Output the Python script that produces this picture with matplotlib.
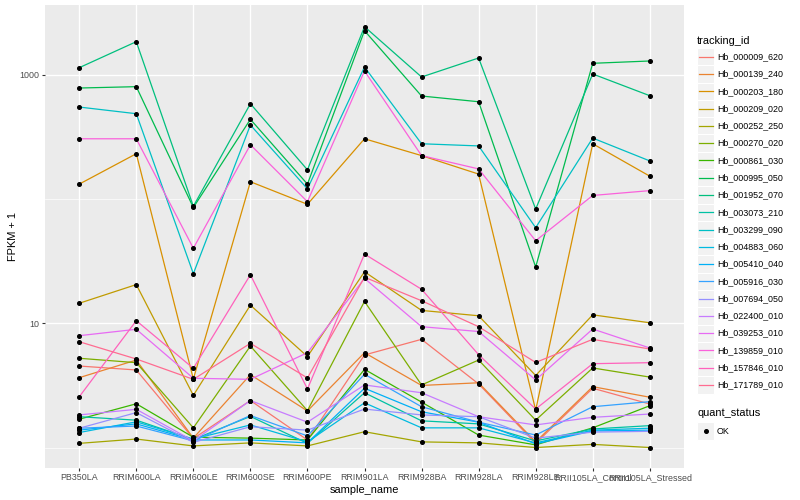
import matplotlib
matplotlib.use("Agg")
import matplotlib.pyplot as plt
from matplotlib.patches import Rectangle
from matplotlib.lines import Line2D
from matplotlib.ticker import FixedLocator, NullFormatter

plt.rcParams['font.family'] = ['Liberation Sans', 'DejaVu Sans']

samples = ["PB350LA", "RRIM600LA", "RRIM600LE", "RRIM600SE", "RRIM600PE",
           "RRIM901LA", "RRIM928BA", "RRIM928LA", "RRIM928LE",
           "RRII105LA_Control", "RRII105LA_Stressed"]

tracking_ids = ["Hb_000009_620", "Hb_000139_240", "Hb_000203_180", "Hb_000209_020",
                "Hb_000252_250", "Hb_000270_020", "Hb_000861_030", "Hb_000995_050",
                "Hb_001952_070", "Hb_003073_210", "Hb_003299_090", "Hb_004883_060",
                "Hb_005410_040", "Hb_005916_030", "Hb_007694_050", "Hb_022400_010",
                "Hb_039253_010", "Hb_139859_010", "Hb_157846_010", "Hb_171789_010"]

# FPKM + 1 values, one list per tracking_id (order of samples above)
hb_000009_620 = [4.53, 4.21, 1.18, 2.39, 1.15, 5.56, 7.43, 3.25, 1.08, 3.00, 2.24]
hb_000139_240 = [3.65, 5.06, 1.19, 3.86, 1.97, 5.80, 3.16, 3.32, 1.11, 3.09, 2.54]
hb_000203_180 = [132, 232, 3.56, 138, 90.8, 306, 224, 159, 2.00, 279, 153]
hb_000209_020 = [14.5, 20.5, 2.63, 14.0, 5.40, 26.0, 12.7, 11.5, 3.80, 11.7, 10.1]
hb_000252_250 = [1.08, 1.17, 1.03, 1.09, 1.03, 1.34, 1.11, 1.09, 1.00, 1.06, 1.00]
hb_000270_020 = [5.23, 4.82, 1.44, 6.56, 1.98, 15.0, 3.19, 5.06, 1.66, 4.37, 3.69]
hb_000861_030 = [1.69, 2.25, 1.21, 1.19, 1.15, 4.26, 2.32, 1.26, 1.05, 1.44, 2.17]
hb_000995_050 = [784, 804, 85.6, 439, 132, 2269, 676, 608, 28.4, 1240, 1294]
hb_001952_070 = [1143, 1851, 87.5, 586, 172, 2444, 962, 1368, 83.2, 1017, 680]
hb_003073_210 = [1.77, 1.66, 1.16, 1.78, 1.08, 2.76, 1.64, 1.55, 1.13, 1.41, 1.50]
hb_003299_090 = [551, 487, 25.1, 395, 121, 1158, 279, 268, 58.9, 310, 203]
hb_004883_060 = [1.32, 1.61, 1.17, 1.52, 1.11, 2.29, 1.44, 1.44, 1.09, 1.38, 1.43]
hb_005410_040 = [1.38, 1.55, 1.15, 1.15, 1.09, 3.00, 1.94, 1.60, 1.07, 1.36, 1.38]
hb_005916_030 = [1.43, 1.49, 1.13, 1.81, 1.24, 3.89, 2.13, 1.60, 1.26, 2.13, 2.34]
hb_007694_050 = [1.43, 1.91, 1.10, 1.47, 1.38, 2.04, 1.83, 1.77, 1.19, 1.33, 1.35]
hb_022400_010 = [1.83, 2.03, 1.13, 2.39, 1.60, 3.19, 2.76, 1.77, 1.52, 1.75, 1.86]
hb_039253_010 = [7.95, 8.95, 3.61, 3.54, 5.80, 23.0, 9.39, 8.59, 3.50, 9.00, 6.33]
hb_139859_010 = [306, 306, 40.2, 274, 95.3, 1075, 224, 175, 46.2, 107, 117]
hb_157846_010 = [2.56, 10.5, 4.34, 24.6, 2.96, 36.1, 18.8, 5.59, 2.04, 4.73, 4.82]
hb_171789_010 = [7.11, 5.16, 3.54, 6.90, 3.63, 23.5, 15.2, 9.39, 4.84, 7.43, 6.21]

series = [hb_000009_620, hb_000139_240, hb_000203_180, hb_000209_020, hb_000252_250,
          hb_000270_020, hb_000861_030, hb_000995_050, hb_001952_070, hb_003073_210,
          hb_003299_090, hb_004883_060, hb_005410_040, hb_005916_030, hb_007694_050,
          hb_022400_010, hb_039253_010, hb_139859_010, hb_157846_010, hb_171789_010]

colors = ["#F8766D", "#EA8331", "#D89000", "#C09B00", "#A3A500", "#7CAE00", "#39B600",
          "#00BB4E", "#00BF7D", "#00C1A3", "#00BFC4", "#00BAE0", "#00B0F6", "#35A2FF",
          "#9590FF", "#C77CFF", "#E76BF3", "#FA62DB", "#FF62BC", "#FF6C91"]

W, H = 800, 500
fig = plt.figure(figsize=(W / 100, H / 100), dpi=100)
fig.patch.set_facecolor("white")


def fx(x):
    return x / W


def fy(y):
    return 1 - y / H


ax = fig.add_axes([fx(45), fy(468), (684 - 45) / W, (468 - 5) / H])
ax.set_facecolor("#EBEBEB")
for s in ax.spines.values():
    s.set_visible(False)

xs = list(range(1, len(samples) + 1))
for vals, col in zip(series, colors):
    ax.plot(xs, vals, color=col, lw=0.9, zorder=2, solid_capstyle='butt')
for vals in series:
    ax.plot(xs, vals, ls='none', marker='o', ms=2.6, color='black', zorder=3)

ax.set_yscale('log')
ax.set_ylim(0.684, 3654)
ax.set_xlim(0.4, len(samples) + 0.6)
ax.set_xticks(xs)
ax.set_xticklabels(samples)
ax.set_yticks([10, 1000])
ax.set_yticklabels(["10", "1000"])
ax.yaxis.set_minor_locator(FixedLocator([1, 100]))
ax.yaxis.set_minor_formatter(NullFormatter())
ax.tick_params(axis='both', which='major', length=2.0, width=0.8, color='#333333',
               labelsize=6.4, labelcolor='#4D4D4D', pad=1.8)
ax.tick_params(axis='y', which='minor', length=0)
ax.set_axisbelow(True)
ax.grid(which='major', color='white', lw=1.0)
ax.grid(which='minor', axis='y', color='white', lw=0.5)

ax.set_xlabel("sample_name", fontsize=7.9, labelpad=2)
ax.set_ylabel("FPKM + 1", fontsize=7.9, labelpad=1)

# legend: tracking_id
key = 17.28
x0 = 697
fig.text(fx(x0), fy(40.5), "tracking_id", fontsize=7.9, va='center', ha='left')
y_first = 56.7
for i, (tid, col) in enumerate(zip(tracking_ids, colors)):
    yc = y_first + key * i
    fig.add_artist(Rectangle((fx(x0), fy(yc + key / 2)), key / W, key / H,
                             transform=fig.transFigure, facecolor="#F2F2F2",
                             edgecolor="white", lw=0.8))
    fig.add_artist(Line2D([fx(x0 + 1.5), fx(x0 + key - 1.5)], [fy(yc), fy(yc)],
                          transform=fig.transFigure, color=col, lw=0.9))
    fig.text(fx(717), fy(yc), tid, fontsize=6.4, va='center', ha='left')

# legend: quant_status
fig.text(fx(x0), fy(413), "quant_status", fontsize=7.9, va='center', ha='left')
yc = 431
fig.add_artist(Rectangle((fx(x0), fy(yc + key / 2)), key / W, key / H,
                         transform=fig.transFigure, facecolor="#F2F2F2",
                         edgecolor="white", lw=0.8))
fig.add_artist(Line2D([fx(x0 + key / 2)], [fy(yc)], transform=fig.transFigure,
                      ls='none', marker='o', ms=2.6, color='black'))
fig.text(fx(717), fy(yc), "OK", fontsize=6.4, va='center', ha='left')

fig.savefig("out.png", dpi=100)
